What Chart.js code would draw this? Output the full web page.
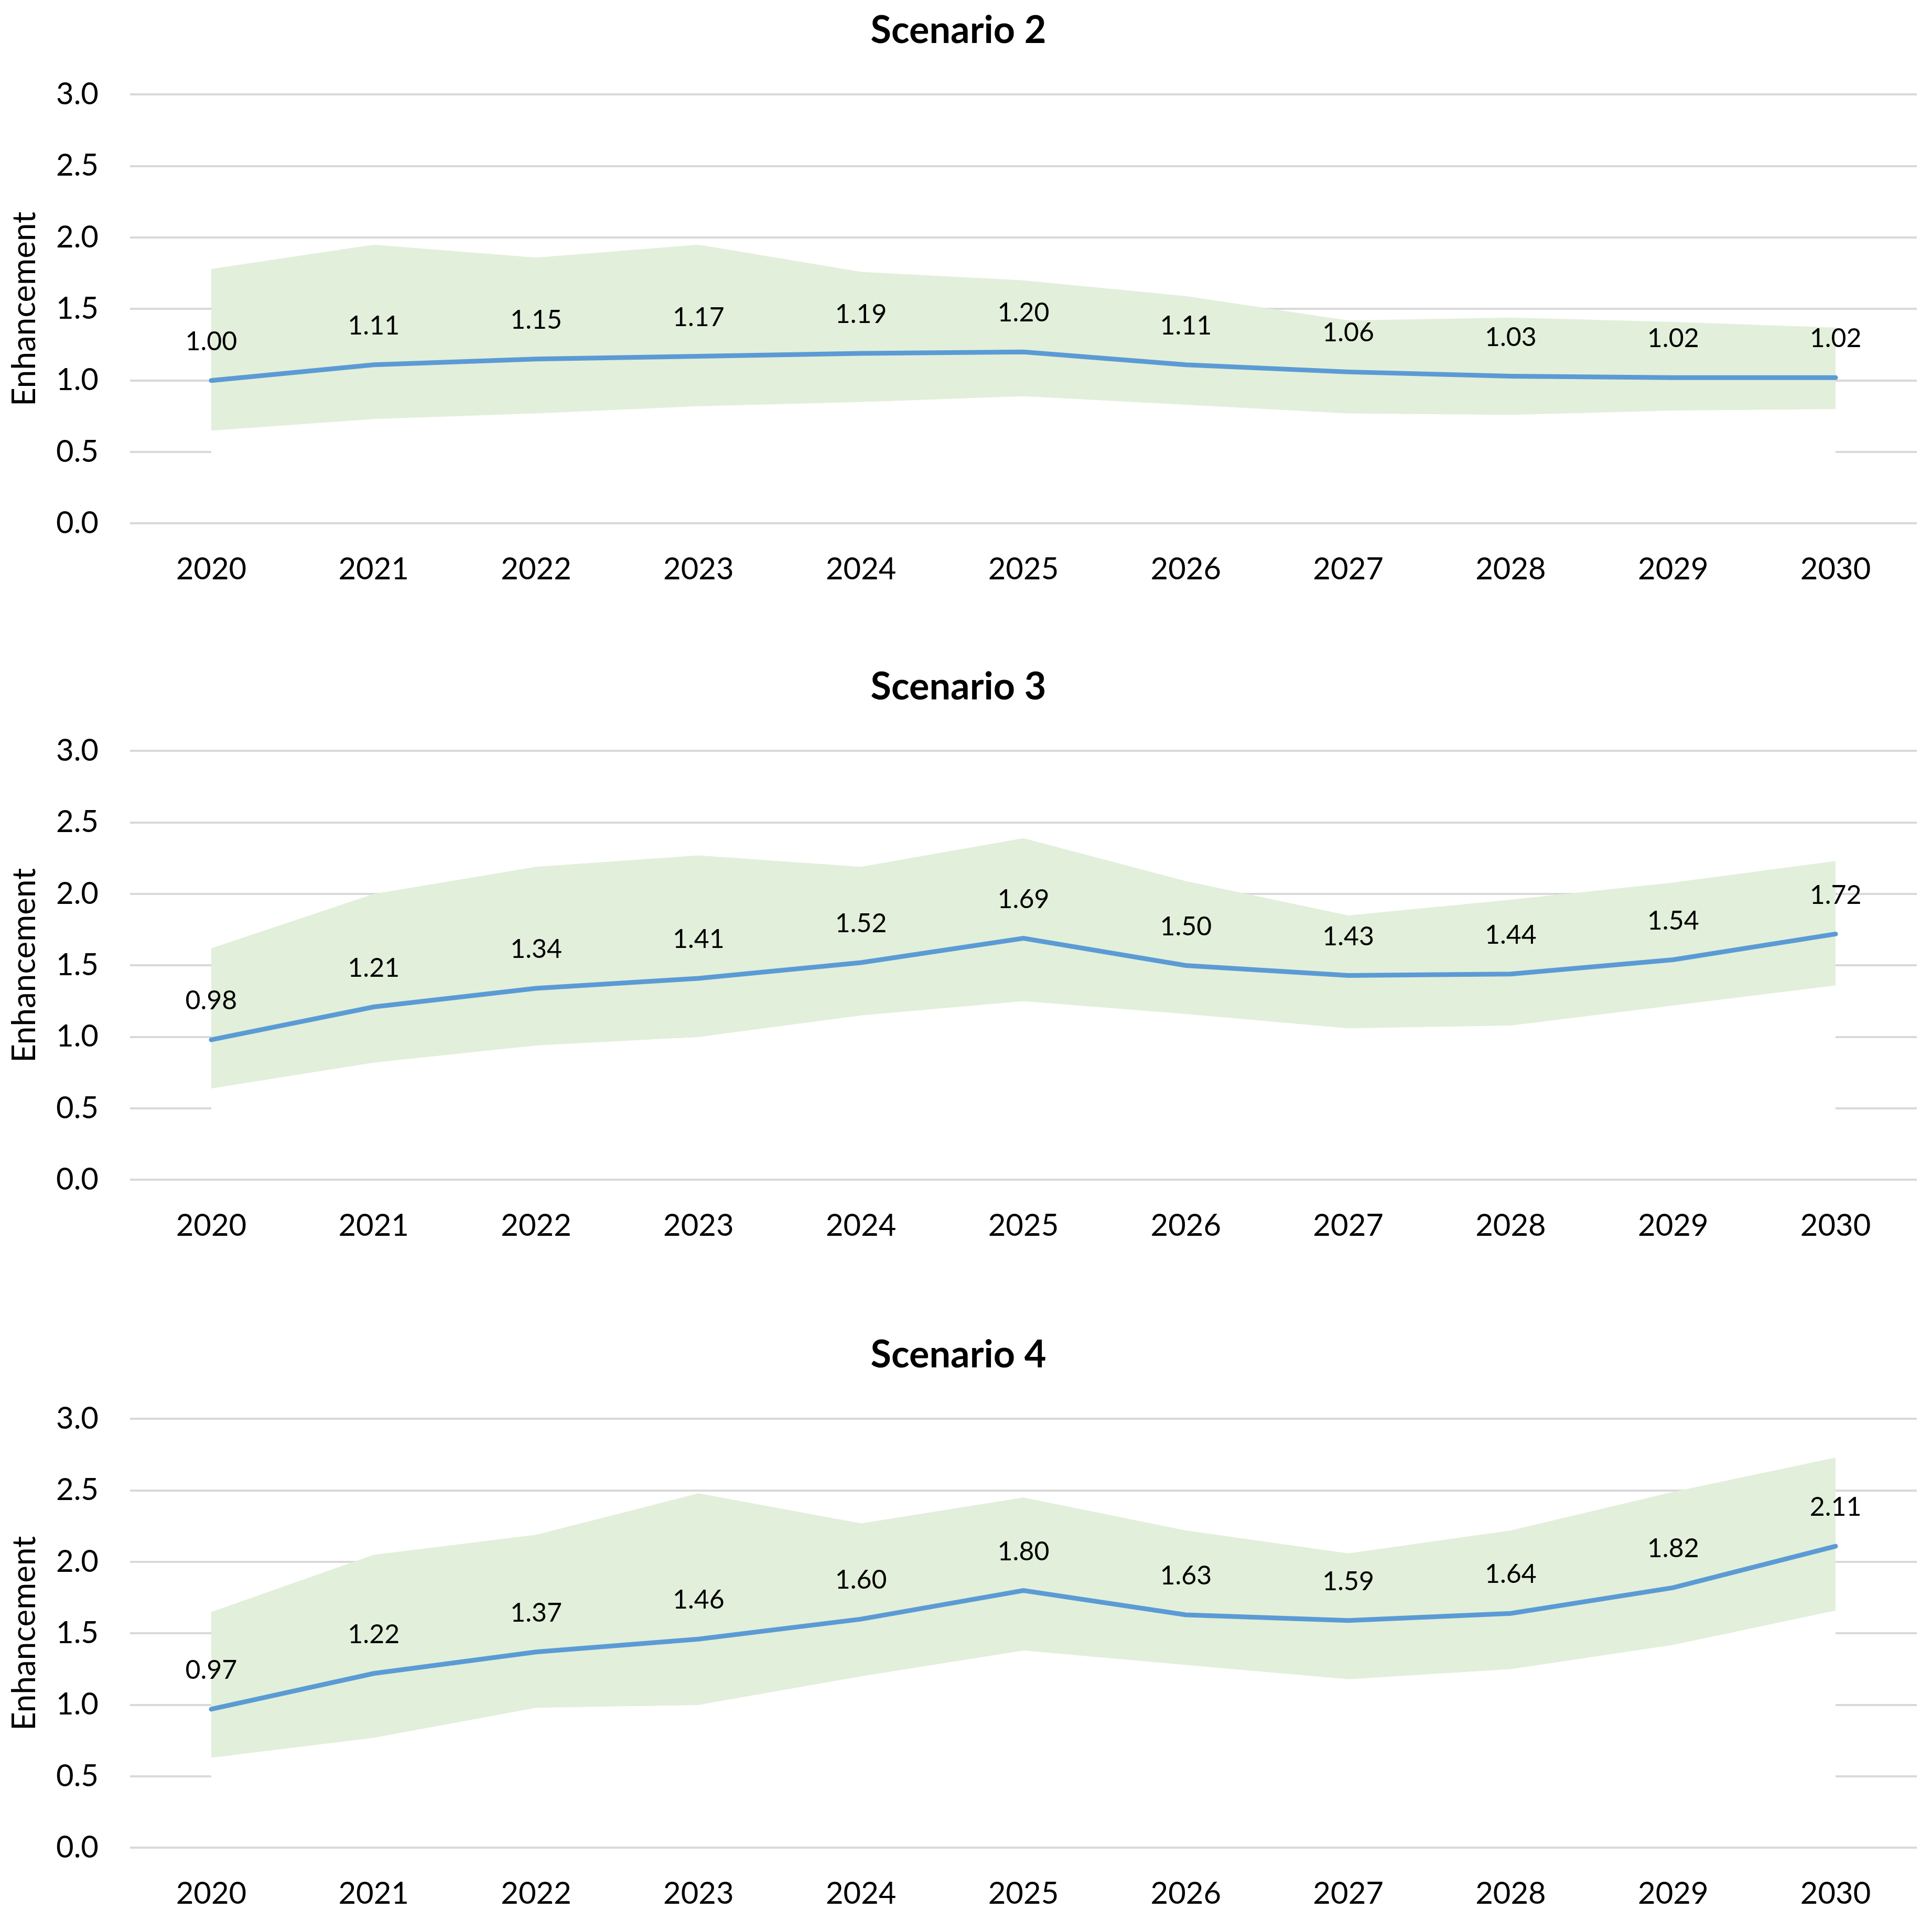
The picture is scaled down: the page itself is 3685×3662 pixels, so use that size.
<!DOCTYPE html>
<html>
<head>
<meta charset="utf-8">
<script src="https://cdn.jsdelivr.net/npm/chart.js@4.4.1/dist/chart.umd.min.js"></script>
<style>
  html, body { margin: 0; padding: 0; background: #fff; }
  body { width: 3685px; height: 3662px; position: relative; overflow: hidden; }
  .box { position: absolute; left: 0; width: 3685px; height: 1174px; }
</style>
</head>
<body>
<div class="box" style="top:0px"><canvas id="c2"></canvas></div>
<div class="box" style="top:1252px"><canvas id="c3"></canvas></div>
<div class="box" style="top:2526px"><canvas id="c4"></canvas></div>
<script>
const years = ["2020", "2021", "2022", "2023", "2024", "2025", "2026", "2027", "2028", "2029", "2030"];
const yTicks = [0, 0.5, 1, 1.5, 2, 2.5, 3];

const s2Mid = [1.00, 1.11, 1.15, 1.17, 1.19, 1.20, 1.11, 1.06, 1.03, 1.02, 1.02];
const s2High = [1.78, 1.95, 1.86, 1.95, 1.76, 1.70, 1.59, 1.42, 1.44, 1.41, 1.37];
const s2Low = [0.65, 0.73, 0.77, 0.82, 0.85, 0.89, 0.83, 0.77, 0.76, 0.79, 0.80];

const s3Mid = [0.98, 1.21, 1.34, 1.41, 1.52, 1.69, 1.50, 1.43, 1.44, 1.54, 1.72];
const s3High = [1.62, 2.00, 2.19, 2.27, 2.19, 2.39, 2.09, 1.85, 1.96, 2.08, 2.23];
const s3Low = [0.64, 0.82, 0.94, 1.00, 1.15, 1.25, 1.16, 1.06, 1.08, 1.22, 1.36];

const s4Mid = [0.97, 1.22, 1.37, 1.46, 1.60, 1.80, 1.63, 1.59, 1.64, 1.82, 2.11];
const s4High = [1.65, 2.05, 2.19, 2.48, 2.27, 2.45, 2.22, 2.06, 2.22, 2.49, 2.73];
const s4Low = [0.63, 0.77, 0.98, 1.00, 1.20, 1.38, 1.28, 1.18, 1.25, 1.42, 1.66];

const FONT = "Lato, 'Open Sans', sans-serif";

// values written above the blue line
const valueLabels = {
  id: "valueLabels",
  afterDatasetsDraw(chart) {
    const meta = chart.getDatasetMeta(0);
    const values = chart.data.datasets[0].data;
    const ctx = chart.ctx;
    ctx.save();
    ctx.font = `50px ${FONT}`;
    ctx.fillStyle = "#000";
    ctx.textAlign = "center";
    ctx.textBaseline = "middle";
    meta.data.forEach((pt, i) => ctx.fillText(values[i].toFixed(2), pt.x, pt.y - 74));
    ctx.restore();
  }
};

function drawScenario(id, title, mid, high, low) {
  new Chart(document.getElementById(id), {
    type: "line",
    data: {
      labels: years,
      datasets: [
        { label: "Enhancement", data: mid, borderColor: "#5b9bd5", borderWidth: 9, pointRadius: 0, fill: false, borderCapStyle: "round", tension: 0 },
        { label: "High", data: high, borderWidth: 0, pointRadius: 0, backgroundColor: "#e2efda", fill: "+1", tension: 0 },
        { label: "Low", data: low, borderWidth: 0, pointRadius: 0, backgroundColor: "#ffffff", fill: { value: 0.014 }, tension: 0 }
      ]
    },
    options: {
      responsive: true,
      maintainAspectRatio: false,
      animation: false,
      layout: { padding: { left: 0, right: 29, top: 0, bottom: 0 } },
      plugins: {
        legend: { display: false },
        tooltip: { enabled: false },
        title: { display: true, text: title, color: "#000", font: { family: FONT, size: 72, weight: "bold" }, padding: { top: 16, bottom: 78 } }
      },
      scales: {
        x: {
          offset: true,
          grid: { display: false, drawTicks: false },
          border: { display: false },
          ticks: { color: "#000", font: { family: FONT, size: 58 }, padding: 53, maxRotation: 0 }
        },
        y: {
          min: 0,
          max: 3,
          afterBuildTicks: (s) => { s.ticks = yTicks.map((v) => ({ value: v })); },
          afterFit: (s) => { s.width = 248; },
          grid: { color: "#d9d9d9", lineWidth: 4, drawTicks: false },
          border: { display: false },
          ticks: { color: "#000", font: { family: FONT, size: 58 }, padding: 60, callback: (v) => v.toFixed(1) },
          title: { display: true, text: "Enhancement", color: "#000", font: { family: FONT, size: 62 }, padding: { top: 10, bottom: 0 } }
        }
      }
    },
    plugins: [valueLabels]
  });
}

drawScenario("c2", "Scenario 2", s2Mid, s2High, s2Low);
drawScenario("c3", "Scenario 3", s3Mid, s3High, s3Low);
drawScenario("c4", "Scenario 4", s4Mid, s4High, s4Low);
</script>
</body>
</html>
